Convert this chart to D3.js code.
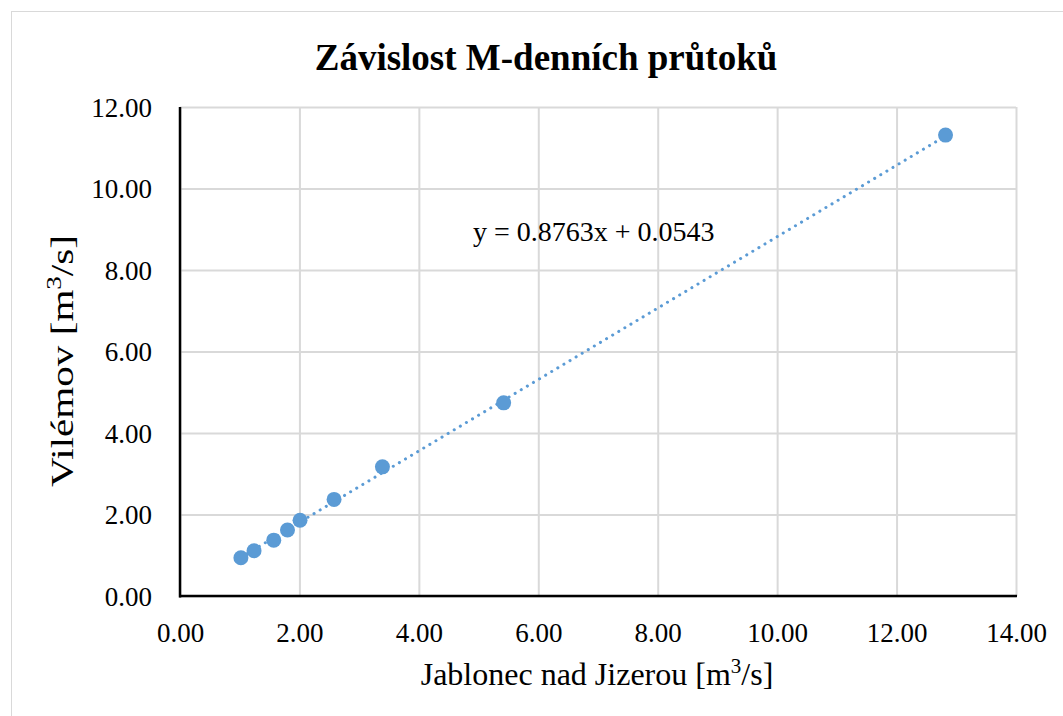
<!DOCTYPE html>
<html>
<head>
<meta charset="utf-8">
<script src="https://cdn.jsdelivr.net/npm/d3@7"></script>
<style>
  html, body { margin: 0; padding: 0; background: #fff; }
  svg { display: block; font-family: "Liberation Serif", "Times New Roman", serif; }
</style>
</head>
<body>
<svg id="chart" width="1063" height="716"></svg>
<script>
// Jablonec nad Jizerou vs. Vilémov, M-day discharges [m3/s]
const jablonec = [1.02, 1.24, 1.57, 1.80, 2.01, 2.58, 3.39, 5.42, 12.82];
const vilemov  = [0.94, 1.11, 1.37, 1.62, 1.86, 2.37, 3.17, 4.74, 11.31];
const xTicks = [0, 2, 4, 6, 8, 10, 12, 14];
const yTicks = [0, 2, 4, 6, 8, 10, 12];
const slope = 0.8763, intercept = 0.0543;

const svg = d3.select("#chart");
const W = 1063, H = 716;
const m = { left: 180, right: 1016, top: 107, bottom: 596 };
const blue = "#5B9BD5";
const grid = "#d9d9d9";
const serif = "Liberation Serif";

// chart frame
svg.append("rect").attr("x", 11.5).attr("y", 11.5).attr("width", W + 10).attr("height", H + 10)
  .attr("fill", "#fff").attr("stroke", grid).attr("stroke-width", 1);

const x = d3.scaleLinear().domain([0, 14]).range([m.left, m.right]);
const y = d3.scaleLinear().domain([0, 12]).range([m.bottom, m.top]);

// gridlines
const gx = svg.append("g").attr("transform", `translate(0,${m.bottom})`)
  .call(d3.axisBottom(x).tickValues(xTicks).tickSize(-(m.bottom - m.top)).tickFormat(""));
gx.select(".domain").remove();
gx.selectAll("line").attr("stroke", grid).attr("stroke-width", 2);

const gy = svg.append("g").attr("transform", `translate(${m.left},0)`)
  .call(d3.axisLeft(y).tickValues(yTicks).tickSize(-(m.right - m.left)).tickFormat(""));
gy.select(".domain").remove();
gy.selectAll("line").attr("stroke", grid).attr("stroke-width", 2);

// axis lines
svg.append("line").attr("x1", m.left).attr("x2", m.left).attr("y1", m.top).attr("y2", m.bottom + 1.5)
  .attr("stroke", "#000").attr("stroke-width", 2.5);
svg.append("line").attr("x1", m.left - 1).attr("x2", m.right + 1).attr("y1", m.bottom).attr("y2", m.bottom)
  .attr("stroke", "#000").attr("stroke-width", 2.5);

// tick labels
const xl = svg.append("g").attr("transform", `translate(0,${m.bottom})`)
  .call(d3.axisBottom(x).tickValues(xTicks).tickSize(0).tickFormat(d3.format(".2f")));
xl.select(".domain").remove();
xl.selectAll("text").attr("font-family", serif).attr("font-size", 27).attr("fill", "#000")
  .attr("y", 46).attr("dy", null);

const yl = svg.append("g").attr("transform", `translate(${m.left},0)`)
  .call(d3.axisLeft(y).tickValues(yTicks).tickSize(0).tickFormat(d3.format(".2f")));
yl.select(".domain").remove();
yl.selectAll("text").attr("font-family", serif).attr("font-size", 27).attr("fill", "#000")
  .attr("x", -28).attr("dy", "0.34em");

// linear trendline
const xMin = d3.min(jablonec), xMax = d3.max(jablonec);
svg.append("line")
  .attr("x1", x(xMin)).attr("y1", y(slope * xMin + intercept))
  .attr("x2", x(xMax)).attr("y2", y(slope * xMax + intercept))
  .attr("stroke", blue).attr("stroke-width", 3)
  .attr("stroke-dasharray", "0.1 7").attr("stroke-linecap", "round");

// points
svg.append("g").selectAll("circle").data(jablonec).join("circle")
  .attr("cx", (d) => x(d)).attr("cy", (d, i) => y(vilemov[i]))
  .attr("r", 7.5).attr("fill", blue);

// equation
svg.append("text").attr("x", 473).attr("y", 241).attr("font-size", 28).attr("fill", "#000")
  .text(`y = ${slope}x + ${intercept}`);

// title
svg.append("text").attr("x", 546).attr("y", 70).attr("text-anchor", "middle")
  .attr("font-size", 37).attr("font-weight", "bold").attr("fill", "#000")
  .text("Závislost M-denních průtoků");

// axis titles
const xt = svg.append("text").attr("x", 597).attr("y", 685).attr("text-anchor", "middle")
  .attr("font-size", 32).attr("fill", "#000");
xt.append("tspan").text("Jablonec nad Jizerou [m");
xt.append("tspan").attr("font-size", 21).attr("dy", -12).text("3");
xt.append("tspan").attr("dy", 12).text("/s]");

const yt = svg.append("text").attr("transform", "translate(73,361) rotate(-90)")
  .attr("text-anchor", "middle").attr("font-size", 32).attr("fill", "#000")
  .attr("textLength", 252).attr("lengthAdjust", "spacingAndGlyphs");
yt.append("tspan").text("Vilémov [m");
yt.append("tspan").attr("font-size", 21).attr("dy", -12).text("3");
yt.append("tspan").attr("dy", 12).text("/s]");
</script>
</body>
</html>
